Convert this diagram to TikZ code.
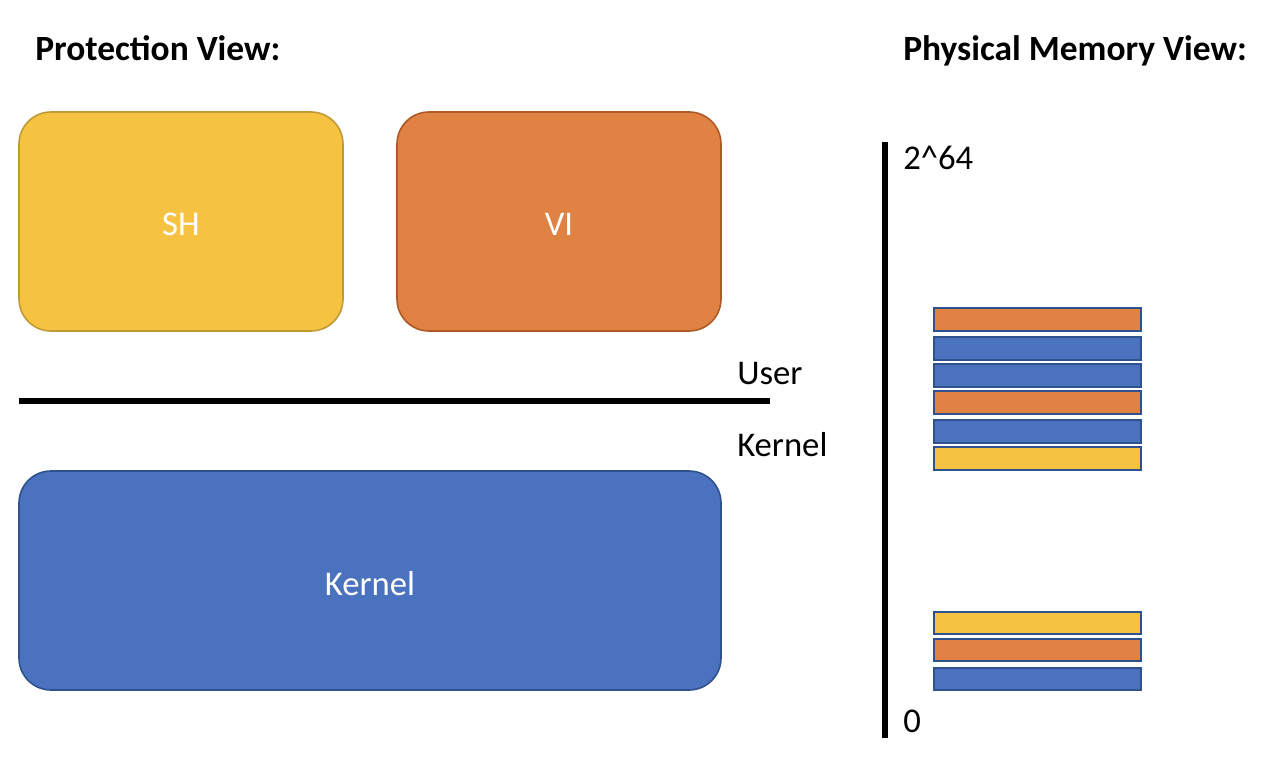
\documentclass[tikz,border=0pt]{standalone}
\usepackage{fontspec}
\setmainfont{Carlito}
\definecolor{yel}{HTML}{F6C242}
\definecolor{yelb}{HTML}{BF9A36}
\definecolor{org}{HTML}{E08244}
\definecolor{orgb}{HTML}{AE5A24}
\definecolor{blu}{HTML}{4A72BE}
\definecolor{blub}{HTML}{2F528F}
\begin{document}
\begin{tikzpicture}[x=0.75pt,y=-0.75pt,
  proc/.style={draw,line width=1.2pt,rounded corners=24pt,text=white,font=\fontsize{26}{30}\selectfont},
  bar/.style={draw=blub,line width=1.5pt},
  lbl/.style={anchor=base west,inner sep=0pt,font=\fontsize{26}{30}\selectfont},
  ttl/.style={anchor=base west,inner sep=0pt,font=\bfseries\fontsize{26.6}{30}\selectfont}]
\useasboundingbox (0,0) rectangle (1282,774);
% protection view
\node[ttl] (t1) at (35,61) {Protection View:};
\draw[proc,fill=yel,draw=yelb] (19,112) rectangle node[yshift=-2pt] (sh) {SH} (343,331);
\draw[proc,fill=org,draw=orgb] (397,112) rectangle node[yshift=-2pt] (vi) {VI} (721,331);
\draw[proc,fill=blu,draw=blub] (19,471) rectangle node[yshift=-2pt] (kb) {Kernel} (721,690);
\coordinate (la) at (19,401);
\coordinate (lb) at (770,401);
\draw[line width=4.5pt] (la) -- (lb);
\node[lbl] (user) at (737,384) {User};
\node[lbl] (kern) at (737,456) {Kernel};
% physical memory view
\node[ttl] (t2) at (903,61) {Physical Memory View:};
\coordinate (va) at (885,142);
\coordinate (vb) at (885,738);
\draw[line width=4.5pt] (va) -- (vb);
\node[lbl] (top) at (903,169) {2\textasciicircum 64};
\node[lbl] (zero) at (903,732) {0};
\draw[bar,fill=org] (934,308) rectangle (1141,331);
\draw[bar,fill=blu] (934,337) rectangle (1141,360);
\draw[bar,fill=blu] (934,364) rectangle (1141,387);
\draw[bar,fill=org] (934,391) rectangle (1141,414);
\draw[bar,fill=blu] (934,420) rectangle (1141,443);
\draw[bar,fill=yel] (934,447) rectangle (1141,470);
\draw[bar,fill=yel] (934,612) rectangle (1141,634);
\draw[bar,fill=org] (934,639) rectangle (1141,661);
\draw[bar,fill=blu] (934,668) rectangle (1141,690);
\end{tikzpicture}
\end{document}
